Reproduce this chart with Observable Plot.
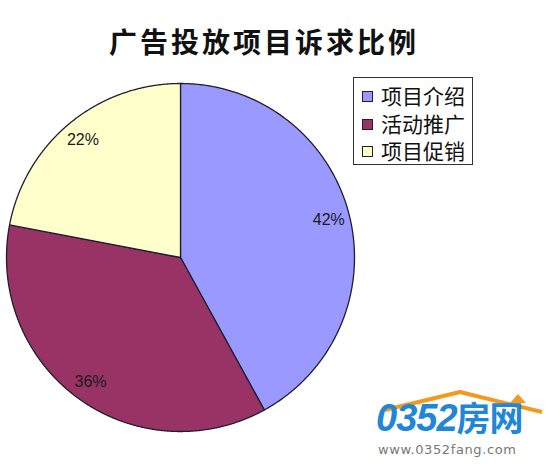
<!DOCTYPE html>
<html>
<head>
<meta charset="utf-8">
<script src="https://cdn.jsdelivr.net/npm/d3@7"></script>
<script src="https://cdn.jsdelivr.net/npm/@observablehq/plot@0.6"></script>
<style>
  body { margin: 0; background: #fff; }
  #wrap { position: relative; width: 550px; height: 464px; overflow: hidden; font-family: "Noto Sans CJK SC", sans-serif; }
  #chart { position: absolute; left: 0; top: 0; }
  #title { position: absolute; left: 0; width: 528px; top: 22px; text-align: center; font-size: 28px; line-height: 38px;
           font-weight: 700; letter-spacing: 3px; color: #111; }
  #legend { position: absolute; left: 353px; top: 77px; width: 118px; height: 86px; border: 1px solid #333;
            background: #fff; box-sizing: content-box; }
  .row { position: absolute; left: 0; height: 28px; line-height: 28px; font-size: 21px; color: #111; white-space: nowrap; }
  .sw { position: absolute; left: 8px; top: 9px; width: 9px; height: 9px; border: 1px solid #222; }
  .lt { position: absolute; left: 27px; top: -1px; }
  #mark { position: absolute; left: 370px; top: 385px; width: 180px; height: 79px; }
  #mark .big { position: absolute; left: 6px; top: 10px; font-family: "Liberation Sans", sans-serif; font-size: 38px;
               font-weight: 700; font-style: italic; color: #1f86d8; letter-spacing: -1px; line-height: 44px; }
  #mark .big span { font-family: "Noto Sans CJK SC", sans-serif; font-style: normal; font-size: 34px; }
  #mark .url { position: absolute; left: 8px; top: 57px; font-family: "DejaVu Sans", sans-serif; font-size: 13px;
               color: #777; letter-spacing: 0.6px; line-height: 16px; }
</style>
</head>
<body>
<div id="wrap">
  <div id="chart"></div>
  <div id="title"></div>
  <div id="legend"></div>
  <div id="mark">
    <svg width="180" height="30" style="position:absolute;left:0;top:0">
      <polyline points="15,25 90,7 172,27" fill="none" stroke="#f39a1e" stroke-width="4" stroke-linejoin="round"/>
      <polygon points="140,18 148,9 156,18" fill="#f39a1e"/>
    </svg>
    <div class="big">0352<span>房网</span></div>
    <div class="url">www.0352fang.com</div>
  </div>
</div>
<script>
// Chart content
const titleText = "广告投放项目诉求比例";
const categories = ["项目介绍", "活动推广", "项目促销"];
const shares = [42, 36, 22];
const valueLabels = ["42%", "36%", "22%"];
const colors = ["#9999ff", "#993366", "#ffffcc"];

document.getElementById("title").textContent = titleText;

// Pie angles: start at 12 o'clock, clockwise, in the given order
const arcs = d3.pie().sort(null).value(d => d)(shares);

// Each slice becomes a closed polygon: centre plus points along its arc
const slicePoints = [];
arcs.forEach((a, i) => {
  const cat = categories[i];
  slicePoints.push({cat, x: 0, y: 0});
  const steps = Math.max(2, Math.ceil((a.endAngle - a.startAngle) / 0.005));
  for (let k = 0; k <= steps; k++) {
    const t = a.startAngle + (a.endAngle - a.startAngle) * k / steps;
    slicePoints.push({cat, x: Math.sin(t), y: Math.cos(t)});
  }
});

// Value labels sit inside each slice along its middle angle
const labelRadius = 0.88;
const labelData = arcs.map((a, i) => {
  const m = (a.startAngle + a.endAngle) / 2;
  return {label: valueLabels[i], x: labelRadius * Math.sin(m), y: labelRadius * Math.cos(m)};
});

const R = 174, cx = 180, cy = 257;
const plot = Plot.plot({
  width: 550,
  height: 464,
  marginLeft: cx - R,
  marginRight: 550 - (cx + R),
  marginTop: cy - R,
  marginBottom: 464 - (cy + R),
  x: {domain: [-1, 1], axis: null},
  y: {domain: [-1, 1], axis: null},
  color: {domain: categories, range: colors},
  style: {background: "transparent", overflow: "visible"},
  marks: [
    Plot.line(slicePoints, {x: "x", y: "y", z: "cat", fill: "cat", stroke: "#1e1e2e", strokeWidth: 1.3,
                            curve: "linear-closed", strokeLinejoin: "round"}),
    Plot.text(labelData, {x: "x", y: "y", text: "label", fill: "#1a1a1a", fontSize: 16,
                          fontFamily: "Liberation Sans, sans-serif"})
  ]
});
document.getElementById("chart").appendChild(plot);

// Legend rows
const legend = document.getElementById("legend");
categories.forEach((c, i) => {
  const row = document.createElement("div");
  row.className = "row";
  row.style.top = (4 + i * 27.5) + "px";
  const sw = document.createElement("div");
  sw.className = "sw";
  sw.style.background = colors[i];
  const lt = document.createElement("div");
  lt.className = "lt";
  lt.textContent = c;
  row.appendChild(sw);
  row.appendChild(lt);
  legend.appendChild(row);
});
</script>
</body>
</html>
